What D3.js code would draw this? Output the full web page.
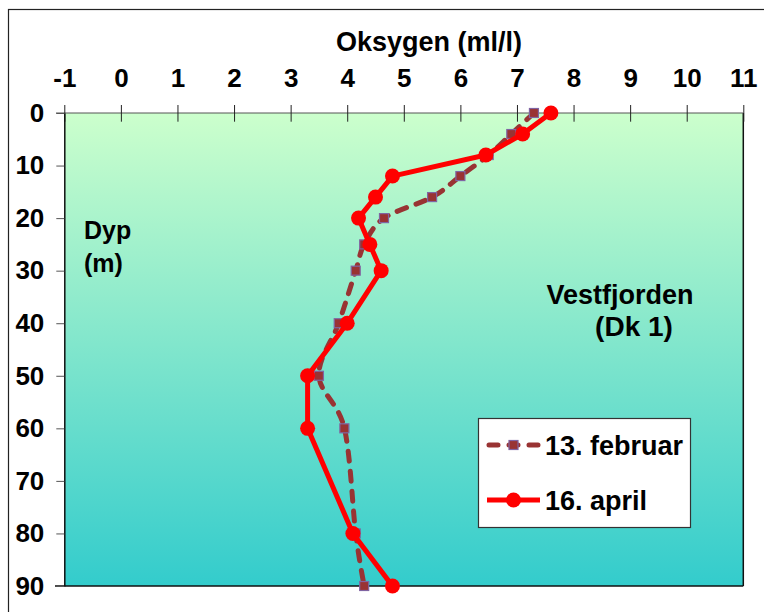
<!DOCTYPE html>
<html>
<head>
<meta charset="utf-8">
<script src="https://cdn.jsdelivr.net/npm/d3@7"></script>
<style>
  body { margin: 0; background: #fff; }
  svg { display: block; font-family: "Liberation Sans", Arial, sans-serif; font-weight: bold; }
</style>
</head>
<body>
<svg id="chart" width="764" height="612"></svg>
<script>
// depth (m) of each sample
const depths = [0, 4, 8, 12, 16, 20, 25, 30, 40, 50, 60, 80, 90]
// oxygen, ml/l
const februar = [7.3, 6.9, 6.5, 6.0, 5.5, 4.65, 4.3, 4.15, 3.85, 3.5, 3.95, 4.15, 4.3]
const april = [7.6, 7.1, 6.45, 4.8, 4.5, 4.2, 4.4, 4.6, 4.0, 3.3, 3.3, 4.1, 4.8]

const xTicks = [-1, 0, 1, 2, 3, 4, 5, 6, 7, 8, 9, 10, 11]
const yTicks = [0, 10, 20, 30, 40, 50, 60, 70, 80, 90]
const seriesNames = ['13. februar', '16. april']

const svg = d3.select('#chart')
const plotL = 64.3, plotR = 743.3, plotT = 113, plotB = 586
const font = '"Liberation Sans", Arial, sans-serif'

const x = d3.scaleLinear().domain([-1, 11]).range([plotL, plotR])
const y = d3.scaleLinear().domain([0, 90]).range([plotT, plotB])

// outer frame
svg.append('rect')
  .attr('x', 8.5).attr('y', 9.5).attr('width', 800).attr('height', 700)
  .attr('fill', '#fff').attr('stroke', '#222').attr('stroke-width', 1.2)

const grad = svg.append('defs').append('linearGradient')
  .attr('id', 'bg').attr('x1', 0).attr('y1', 0).attr('x2', 0).attr('y2', 1)
grad.append('stop').attr('offset', 0).attr('stop-color', '#ccffcc')
grad.append('stop').attr('offset', 1).attr('stop-color', '#33cccc')

svg.append('rect')
  .attr('x', plotL).attr('y', plotT)
  .attr('width', plotR - plotL).attr('height', plotB - plotT)
  .attr('fill', 'url(#bg)')

// right and bottom border of the plot
svg.append('line').attr('x1', plotR).attr('x2', plotR).attr('y1', plotT).attr('y2', plotB)
  .attr('stroke', '#111').attr('stroke-width', 1.5)
svg.append('line').attr('x1', 55).attr('x2', plotR).attr('y1', plotB).attr('y2', plotB)
  .attr('stroke', '#111').attr('stroke-width', 1.5)

// top (x) axis, plain hyphen for the minus like the original
const xAxis = svg.append('g').attr('transform', `translate(0,${plotT})`)
  .call(d3.axisTop(x).tickValues(xTicks).tickFormat(d => String(d))
    .tickSizeInner(8).tickSizeOuter(0).tickPadding(18))
xAxis.select('.domain').attr('d', `M56,0H${plotR}`).attr('stroke', '#555')
xAxis.selectAll('.tick line').attr('y2', 8.7).attr('y1', -8).attr('stroke', '#222')
xAxis.selectAll('.tick text')
  .attr('font-size', 26).attr('font-family', font)
  .attr('font-weight', 'bold').attr('fill', '#000')

// left (y) axis
const yAxis = svg.append('g').attr('transform', `translate(${plotL},0)`)
  .call(d3.axisLeft(y).tickValues(yTicks).tickSizeInner(8).tickSizeOuter(0).tickPadding(12))
yAxis.select('.domain').attr('stroke', '#111').attr('stroke-width', 1.5)
yAxis.selectAll('.tick line').attr('stroke', '#555')
yAxis.selectAll('.tick text')
  .attr('font-size', 26).attr('font-family', font)
  .attr('font-weight', 'bold').attr('fill', '#000')

svg.append('text').attr('x', 429).attr('y', 51).attr('text-anchor', 'middle')
  .attr('font-size', 27).text('Oksygen (ml/l)')
svg.append('text').attr('x', 84).attr('y', 239).attr('font-size', 25).text('Dyp')
svg.append('text').attr('x', 84).attr('y', 272).attr('font-size', 25).text('(m)')
svg.append('text').attr('x', 620).attr('y', 304).attr('text-anchor', 'middle')
  .attr('font-size', 27).text('Vestfjorden')
svg.append('text').attr('x', 634).attr('y', 336).attr('text-anchor', 'middle')
  .attr('font-size', 28).text('(Dk 1)')

// 13. februar: smoothed dashed line with squares
const febPts = depths.map((d, i) => [x(februar[i]), y(d)])
svg.append('path')
  .attr('d', d3.line().curve(d3.curveCatmullRom.alpha(0))(febPts))
  .attr('fill', 'none').attr('stroke', '#993333').attr('stroke-width', 5)
  .attr('stroke-dasharray', '10,10').attr('stroke-linecap', 'round')
svg.append('g').selectAll('rect').data(febPts).join('rect')
  .attr('x', d => d[0] - 4.5).attr('y', d => d[1] - 4.5)
  .attr('width', 9).attr('height', 9)
  .attr('fill', '#993333').attr('stroke', '#8064a2').attr('stroke-width', 1.2)

// 16. april: straight red line with dots
const aprPts = depths.map((d, i) => [x(april[i]), y(d)])
svg.append('path')
  .attr('d', d3.line()(aprPts))
  .attr('fill', 'none').attr('stroke', '#ff0000').attr('stroke-width', 5)
  .attr('stroke-linejoin', 'round')
svg.append('g').selectAll('circle').data(aprPts).join('circle')
  .attr('cx', d => d[0]).attr('cy', d => d[1]).attr('r', 7.5)
  .attr('fill', '#ff0000')

// legend
const lg = svg.append('g')
lg.append('rect').attr('x', 478.5).attr('y', 418.5).attr('width', 212).attr('height', 109)
  .attr('fill', '#fff').attr('stroke', '#333').attr('stroke-width', 1.2)
const rowY = [445, 500]
lg.append('line').attr('x1', 489).attr('x2', 538).attr('y1', rowY[0]).attr('y2', rowY[0])
  .attr('stroke', '#993333').attr('stroke-width', 5)
  .attr('stroke-dasharray', '9,11').attr('stroke-linecap', 'round')
lg.append('rect').attr('x', 509).attr('y', rowY[0] - 4.5).attr('width', 9).attr('height', 9)
  .attr('fill', '#993333').attr('stroke', '#8064a2').attr('stroke-width', 1.2)
lg.append('line').attr('x1', 487).attr('x2', 540).attr('y1', rowY[1]).attr('y2', rowY[1])
  .attr('stroke', '#ff0000').attr('stroke-width', 5)
lg.append('circle').attr('cx', 513.5).attr('cy', rowY[1]).attr('r', 7.5).attr('fill', '#ff0000')
lg.selectAll('text.lbl').data(seriesNames).join('text')
  .attr('class', 'lbl')
  .attr('x', 545).attr('y', (d, i) => rowY[i] + 10)
  .attr('font-size', 27).text(d => d)
</script>
</body>
</html>
